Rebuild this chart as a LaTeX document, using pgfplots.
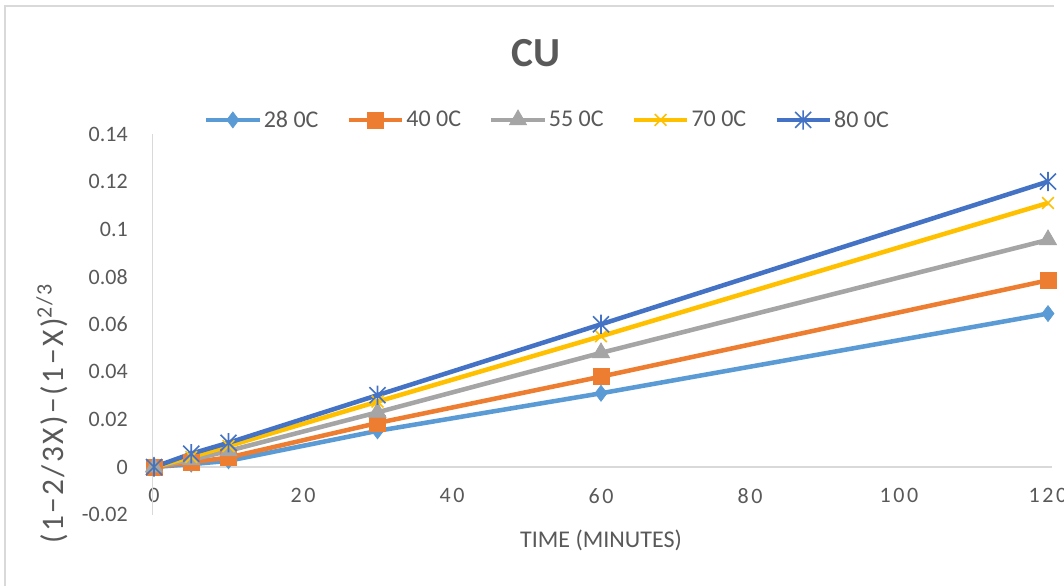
\documentclass[border=0pt]{standalone}
\usepackage{fontspec}
\setmainfont{Carlito}
\usepackage{pgfplots}
\pgfplotsset{compat=1.18}
\definecolor{c28}{HTML}{5B9BD5}
\definecolor{c40}{HTML}{ED7D31}
\definecolor{c55}{HTML}{A5A5A5}
\definecolor{c70}{HTML}{FFC000}
\definecolor{c80}{HTML}{4472C4}
\definecolor{txt}{HTML}{595959}
\definecolor{axl}{HTML}{D9D9D9}
\pgfdeclareplotmark{xstar}{%
  \pgfpathmoveto{\pgfqpoint{-\pgfplotmarksize}{-\pgfplotmarksize}}%
  \pgfpathlineto{\pgfqpoint{\pgfplotmarksize}{\pgfplotmarksize}}%
  \pgfpathmoveto{\pgfqpoint{-\pgfplotmarksize}{\pgfplotmarksize}}%
  \pgfpathlineto{\pgfqpoint{\pgfplotmarksize}{-\pgfplotmarksize}}%
  \pgfpathmoveto{\pgfqpoint{0pt}{-1.2\pgfplotmarksize}}%
  \pgfpathlineto{\pgfqpoint{0pt}{1.2\pgfplotmarksize}}%
  \pgfusepathqstroke}

\pgfplotstableread{
x    a28     a40     a55     a70     a80
0    0       0       0       0       0
5    0.0012  0.0020  0.0030  0.0042  0.0056
10   0.0026  0.0040  0.0068  0.0088  0.0102
30   0.0152  0.0185  0.0230  0.0275  0.0302
60   0.0310  0.0380  0.0480  0.0550  0.0600
120  0.0645  0.0785  0.0955  0.1110  0.1200
}\datatable

\begin{document}
\begin{tikzpicture}
\path[use as bounding box] (0,0) rectangle (798pt,439.5pt);
\clip (0,0) rectangle (798pt,439.5pt);
\fill[white] (0,0) rectangle (798pt,439.5pt);
\draw[axl, line width=1.1pt] (3.75pt,0) -- (3.75pt,435pt) -- (790.5pt,435pt);
\node[anchor=base, text=txt, font=\fontsize{31pt}{36pt}\selectfont\bfseries] at (402pt,389.25pt) {CU};
\begin{axis}[
  at={(115.5pt,53.55pt)}, anchor=south west,
  scale only axis, width=670.5pt, height=285.45pt,
  xmin=0, xmax=120, ymin=-0.02, ymax=0.14,
  axis line style={draw=none},
  major tick length=0pt,
  clip=false,
  xtick={0,20,40,60,80,100,120},
  xticklabels={0,20,40,60,80,100,120},
  ytick={-0.02,0,0.02,0.04,0.06,0.08,0.1,0.12,0.14},
  yticklabels={-0.02,0,0.02,0.04,0.06,0.08,0.1,0.12,0.14},
  tick label style={text=txt, font=\fontsize{16.5pt}{19pt}\selectfont, inner sep=0pt},
  xticklabel style={anchor=north, yshift=20pt, font=\fontsize{16.5pt}{19pt}\selectfont\addfontfeature{LetterSpace=12}},
  yticklabel style={anchor=east, xshift=-19.5pt},
  xlabel={TIME (MINUTES)},
  xlabel style={at={(axis description cs:0.5,0)}, anchor=base, yshift=-25pt, text=txt, font=\fontsize{18pt}{21pt}\selectfont},
  ylabel={(1−2/3X)−(1−X)\textsuperscript{2/3}},
  ylabel style={at={(axis description cs:-0.114,0.265)}, anchor=center, text=txt, font=\fontsize{23.5pt}{27pt}\selectfont\addfontfeature{LetterSpace=8}},
  legend columns=5,
  legend style={at={(axis description cs:0.440,1.037)}, anchor=center, draw=none, fill=none,
    font=\fontsize{18pt}{21pt}\selectfont, text=txt,
    nodes={inner sep=1.5pt},
    /tikz/every even column/.append style={column sep=19.5pt}},
  legend image code/.code={\draw[mark repeat=2,mark phase=2,#1] plot coordinates {(0pt,0pt) (20pt,0pt) (40pt,0pt)};},
]
\draw[axl, line width=1.2pt] (axis cs:0,0) -- (axis cs:120.5,0);
\draw[axl, line width=1.2pt] (axis cs:-0.2,-0.02) -- (axis cs:-0.2,0.14);
\addplot[color=c28, line width=3.4pt, mark=diamond*, mark size=6pt, mark options={fill=c28, line width=0.5pt}] table[x=x, y=a28] {\datatable};
\addlegendentry{28 0C}
\addplot[color=c40, line width=3.4pt, mark=square*, mark size=6pt, mark options={fill=c40, line width=0.5pt}] table[x=x, y=a40] {\datatable};
\addlegendentry{40 0C}
\addplot[color=c55, line width=3.4pt, mark=triangle*, mark size=7.5pt, mark options={fill=c55, line width=0.5pt}] table[x=x, y=a55] {\datatable};
\addlegendentry{55 0C}
\addplot[color=c70, line width=3.4pt, mark=x, mark size=6.2pt, mark options={line width=1.2pt}] table[x=x, y=a70] {\datatable};
\addlegendentry{70 0C}
\addplot[color=c80, line width=3.4pt, mark=xstar, mark size=6pt, mark options={line width=1.2pt}] table[x=x, y=a80] {\datatable};
\addlegendentry{80 0C}
\end{axis}
\end{tikzpicture}
\end{document}
